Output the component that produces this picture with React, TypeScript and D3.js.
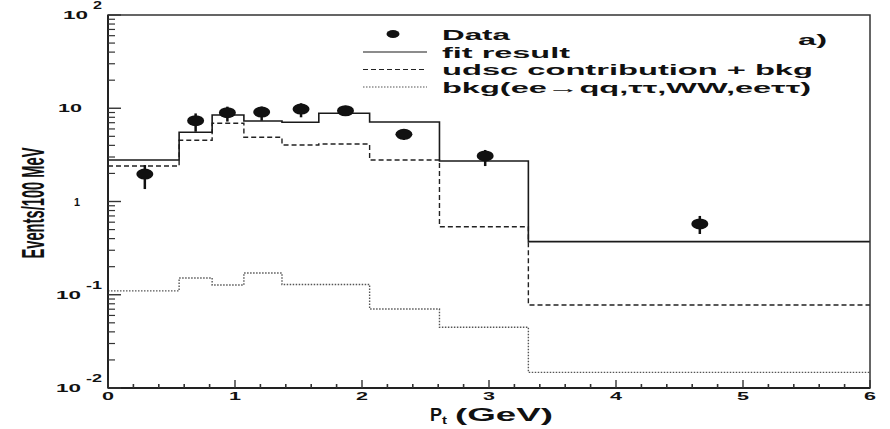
import React, { useEffect, useRef } from 'react';
import * as d3 from 'd3';

// bin edges in Pt (GeV)
const binEdges = [0, 0.56, 0.82, 1.07, 1.37, 1.66, 2.06, 2.61, 3.31, 6];
// histogram contents per bin
const fitResult = [2.79, 5.52, 8.47, 7.3, 7.07, 8.83, 7.12, 2.72, 0.371];
const udscBkg = [2.4, 4.53, 6.9, 4.88, 4.04, 4.14, 2.79, 0.537, 0.0776];
const bkgOnly = [0.11, 0.151, 0.127, 0.171, 0.129, 0.129, 0.0703, 0.0448, 0.0147];
// data points
const dataX = [0.29, 0.69, 0.94, 1.21, 1.52, 1.87, 2.33, 2.97, 4.66];
const dataY = [1.97, 7.35, 8.96, 9.1, 9.8, 9.4, 5.25, 3.08, 0.574];
const dataHi = [2.46, 8.8, 10.4, 10.4, 11.3, 10.6, 5.95, 3.57, 0.7];
const dataLo = [1.36, 5.6, 7.2, 7.35, 8.0, 8.3, 4.57, 2.4, 0.448];

const xTicks = [0, 1, 2, 3, 4, 5, 6];
const yDecades = [100, 10, 1, 0.1, 0.01];

const legendItems = [
  { label: 'Data', kind: 'dot', width: 68 },
  { label: 'fit result', kind: 'solid', width: 128 },
  { label: 'udsc contribution + bkg', kind: 'dashed', width: 371 },
  { label: 'bkg(ee\u2192qq,\u03c4\u03c4,WW,ee\u03c4\u03c4)', kind: 'dotted', width: 369 },
];

const FONT = '"Liberation Sans", Arial, Helvetica, sans-serif';

const styles: Record<string, { stroke: string; width: number; dash: string | null }> = {
  solid: { stroke: '#1a1a1a', width: 1.6, dash: null },
  dashed: { stroke: '#222', width: 1.4, dash: '5,3' },
  dotted: { stroke: '#555', width: 1.4, dash: '1.5,1.5' },
};

const App = () => {
  const ref = useRef<SVGSVGElement>(null);

  useEffect(() => {
    const svg = d3.select(ref.current);
    svg.selectAll('*').remove();

    const W = 890, H = 429;
    const left = 108, right = 870, top = 15, bottom = 388;

    svg.append('rect').attr('width', W).attr('height', H).attr('fill', '#fff');

    const x = d3.scaleLinear().domain([0, 6]).range([left, right]);
    const y = d3.scaleLog().domain([0.01, 100]).range([bottom, top]);

    const txt = (
      t: string, tx: number, ty: number, size: number, len: number,
      anchor = 'start'
    ) =>
      svg.append('text')
        .attr('x', tx).attr('y', ty)
        .attr('font-family', FONT).attr('font-weight', 'bold')
        .attr('font-size', size).attr('fill', '#111')
        .attr('text-anchor', anchor)
        .attr('textLength', len).attr('lengthAdjust', 'spacingAndGlyphs')
        .text(t);

    // histograms
    const step = d3.line<[number, number]>()
      .x(d => x(d[0])).y(d => y(d[1]))
      .curve(d3.curveStepAfter);

    const drawHist = (vals: number[], kind: string) => {
      const pts: [number, number][] = vals.map((v, i) => [binEdges[i], v]);
      pts.push([binEdges[binEdges.length - 1], vals[vals.length - 1]]);
      const s = styles[kind];
      svg.append('path')
        .attr('d', step(pts))
        .attr('fill', 'none')
        .attr('stroke', s.stroke)
        .attr('stroke-width', s.width)
        .attr('stroke-dasharray', s.dash);
    };
    drawHist(bkgOnly, 'dotted');
    drawHist(udscBkg, 'dashed');
    drawHist(fitResult, 'solid');

    // data points with error bars
    dataX.forEach((dx, i) => {
      svg.append('line')
        .attr('x1', x(dx)).attr('x2', x(dx))
        .attr('y1', y(dataHi[i])).attr('y2', y(dataLo[i]))
        .attr('stroke', '#111').attr('stroke-width', 2.5);
      svg.append('ellipse')
        .attr('cx', x(dx)).attr('cy', y(dataY[i]))
        .attr('rx', 8.5).attr('ry', 5.5)
        .attr('fill', '#111');
    });

    // frame
    svg.append('rect')
      .attr('x', left).attr('y', top)
      .attr('width', right - left).attr('height', bottom - top)
      .attr('fill', 'none').attr('stroke', '#333').attr('stroke-width', 1.5);
    svg.append('line')
      .attr('x1', left).attr('x2', left).attr('y1', top).attr('y2', bottom)
      .attr('stroke', '#222').attr('stroke-width', 2);
    svg.append('line')
      .attr('x1', left).attr('x2', right).attr('y1', bottom).attr('y2', bottom)
      .attr('stroke', '#222').attr('stroke-width', 2);

    // y ticks (inside, log minor)
    const minor: number[] = [];
    [0.01, 0.1, 1, 10].forEach(d => {
      for (let k = 2; k <= 9; k++) minor.push(d * k);
    });
    minor.forEach(v => {
      svg.append('line')
        .attr('x1', left).attr('x2', left + 7)
        .attr('y1', y(v)).attr('y2', y(v))
        .attr('stroke', '#333').attr('stroke-width', 1.2);
    });
    yDecades.forEach(v => {
      svg.append('line')
        .attr('x1', left).attr('x2', left + 13)
        .attr('y1', y(v)).attr('y2', y(v))
        .attr('stroke', '#333').attr('stroke-width', 1.4);
    });

    // y tick labels
    yDecades.forEach(v => {
      const ty = y(v);
      const e = Math.round(Math.log10(v));
      if (e === 1) {
        txt('10', 82, ty + 4, 11, 24, 'end');
      } else if (e === 0) {
        txt('1', 80, ty + 4, 11, 6, 'end');
      } else {
        const sup = String(e);
        const supLen = sup.length > 1 ? 16 : 9;
        txt(sup, 102, ty - 6, 11, supLen, 'end');
        txt('10', 102 - supLen - 5, ty + 4, 11, 25, 'end');
      }
    });

    // x ticks (inside)
    d3.range(0, 6.001, 0.2).forEach(v => {
      const major = Math.abs(v - Math.round(v)) < 1e-6;
      svg.append('line')
        .attr('x1', x(v)).attr('x2', x(v))
        .attr('y1', bottom).attr('y2', bottom - (major ? 8 : 4))
        .attr('stroke', '#333').attr('stroke-width', major ? 1.4 : 1.6);
    });
    xTicks.forEach(v => {
      txt(String(v), x(v), 400, 11, 12, 'middle');
    });

    // axis titles
    txt('P', 430, 421, 18, 12);
    txt('t', 442, 424, 11, 5);
    txt('(GeV)', 455, 421, 18, 98);

    svg.append('text')
      .attr('transform', `translate(44,203) rotate(-90)`)
      .attr('font-family', FONT).attr('font-weight', 'bold')
      .attr('font-size', 31).attr('fill', '#111')
      .attr('text-anchor', 'middle')
      .attr('textLength', 111).attr('lengthAdjust', 'spacingAndGlyphs')
      .text('Events/100 MeV');

    // legend
    const legY = [34, 52, 69.5, 87];
    legendItems.forEach((it, i) => {
      const ly = legY[i];
      if (it.kind === 'dot') {
        svg.append('ellipse')
          .attr('cx', 393).attr('cy', ly).attr('rx', 6.5).attr('ry', 4)
          .attr('fill', '#111');
      } else {
        const s = styles[it.kind];
        svg.append('line')
          .attr('x1', 363).attr('x2', 427).attr('y1', ly).attr('y2', ly)
          .attr('stroke', s.stroke).attr('stroke-width', 1.2)
          .attr('stroke-dasharray', s.dash);
      }
      txt(it.label, 442, ly + 5.5, 14.5, it.width);
    });
    txt('a)', 798, 45, 15, 29);
  }, []);

  return (
    <svg
      ref={ref}
      width={890}
      height={429}
      style={{ position: 'absolute', left: 0, top: 0, display: 'block' }}
    />
  );
};

export default App;
